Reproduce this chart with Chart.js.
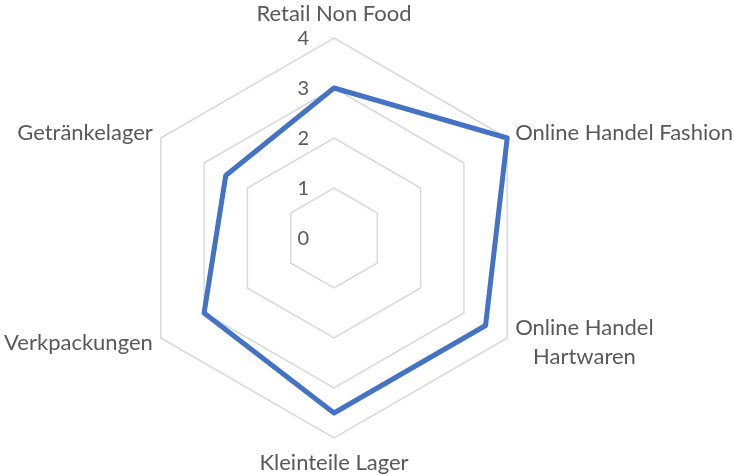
<!DOCTYPE html>
<html>
<head>
<meta charset="utf-8">
<script src="https://cdn.jsdelivr.net/npm/chart.js@4"></script>
<style>
  html, body { margin: 0; padding: 0; background: #ffffff; }
  #wrap { width: 735px; height: 476px; position: relative; }
</style>
</head>
<body>
<div id="wrap"><canvas id="c"></canvas></div>
<script>
const categories = [
  'Retail Non Food',
  'Online Handel Fashion',
  ['Online Handel', 'Hartwaren'],
  'Kleinteile Lager',
  'Verkpackungen',
  'Getränkelager'
];
const seriesValues = [3, 4, 3.5, 3.5, 3, 2.5];
const tickValues = [0, 1, 2, 3, 4];

const textColor = '#595959';
const fontFamily = 'Lato, "Open Sans", sans-serif';

const labelPlugin = {
  id: 'customLabels',
  afterDraw(chart) {
    const scale = chart.scales.r;
    const ctx = chart.ctx;
    ctx.save();
    ctx.fillStyle = textColor;
    // tick labels, left of the vertical axis
    ctx.font = '20px ' + fontFamily;
    ctx.textAlign = 'right';
    ctx.textBaseline = 'middle';
    tickValues.forEach(v => {
      const d = scale.getDistanceFromCenterForValue(v);
      ctx.fillText(String(v), scale.xCenter - 25, scale.yCenter - d + 1);
    });
    // point labels
    ctx.font = '22px ' + fontFamily;
    const lineH = 29;
    categories.forEach((lab, i) => {
      const lines = Array.isArray(lab) ? lab : [lab];
      const p = scale.getPointPosition(i, scale.drawingArea);
      const dx = p.x - scale.xCenter;
      const dy = p.y - scale.yCenter;
      let x, y, align;
      if (Math.abs(dx) < 1) {
        align = 'center';
        x = p.x;
        y = dy < 0 ? p.y - 24 : p.y + 25;
      } else if (dx > 0) {
        align = lines.length > 1 ? 'center' : 'left';
        x = p.x + 8;
        y = dy < 0 ? p.y - 5 : p.y + 4;
      } else {
        align = 'right';
        x = p.x - 8;
        y = dy < 0 ? p.y - 5 : p.y + 5;
      }
      ctx.textBaseline = 'middle';
      if (align === 'center' && lines.length > 1) {
        let w = 0;
        lines.forEach(l => { w = Math.max(w, ctx.measureText(l).width); });
        x = x + w / 2;
      }
      ctx.textAlign = align;
      const y0 = y - (lines.length - 1) * lineH / 2;
      lines.forEach((l, k) => ctx.fillText(l, x, y0 + k * lineH));
    });
    ctx.restore();
  }
};

new Chart(document.getElementById('c'), {
  type: 'radar',
  data: {
    labels: categories,
    datasets: [{
      data: seriesValues,
      borderColor: '#4472C4',
      backgroundColor: 'rgba(0,0,0,0)',
      borderWidth: 5,
      borderJoinStyle: 'round',
      pointRadius: 0,
      pointHoverRadius: 0,
      fill: false,
      tension: 0
    }]
  },
  options: {
    responsive: true,
    maintainAspectRatio: false,
    animation: false,
    layout: { padding: { left: 134, right: 201, top: 38, bottom: 38 } },
    plugins: { legend: { display: false }, tooltip: { enabled: false } },
    scales: {
      r: {
        min: 0,
        max: 4,
        ticks: { display: false, stepSize: 1 },
        pointLabels: { display: false },
        angleLines: { display: false },
        grid: { color: '#D9D9D9', lineWidth: 1.5 }
      }
    }
  },
  plugins: [labelPlugin]
});
</script>
</body>
</html>
